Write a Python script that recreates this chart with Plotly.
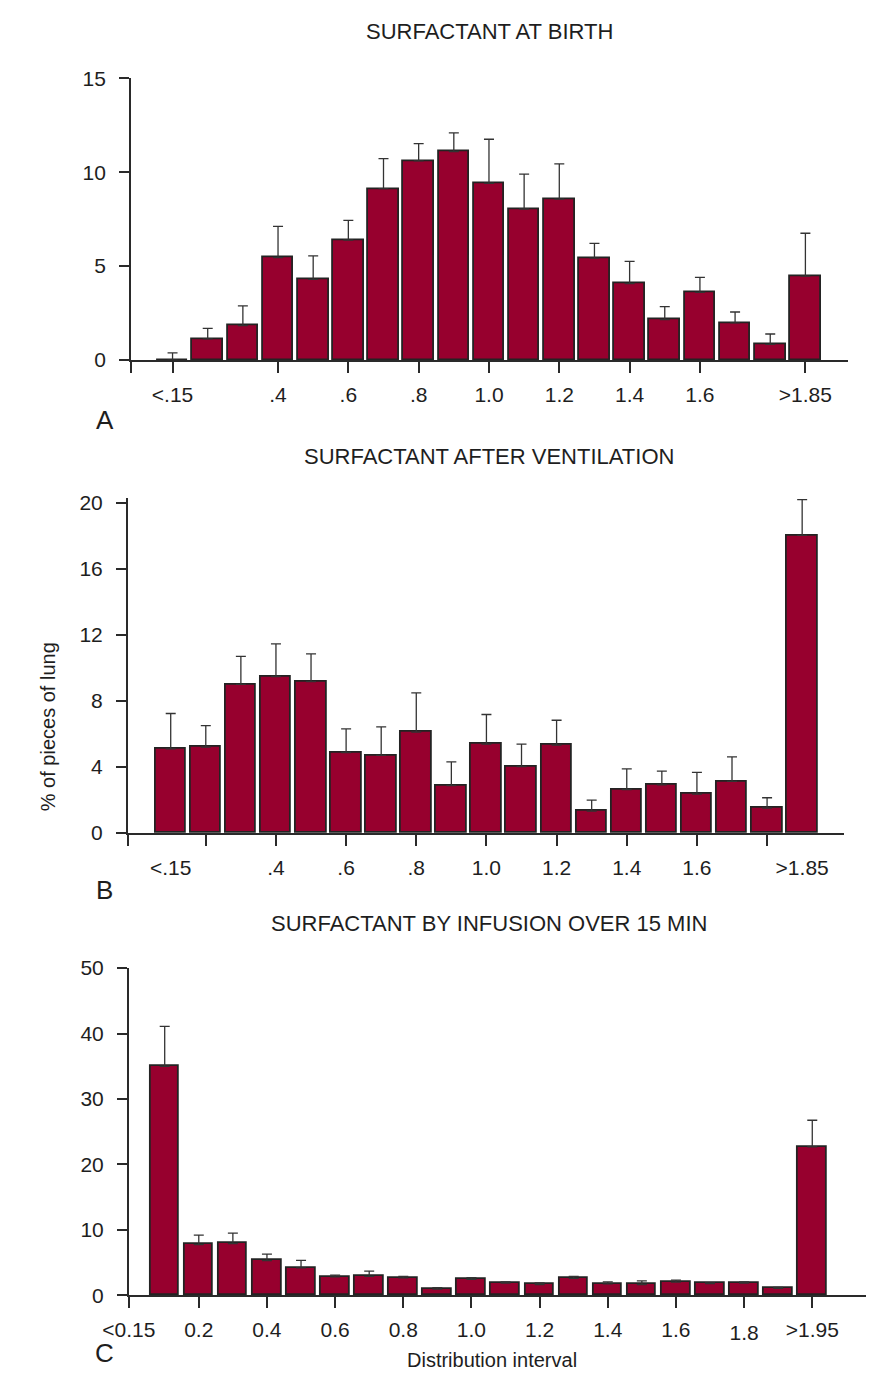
import plotly.graph_objects as go

W, H = 873, 1382

# ---------------- data ----------------
# Panel A: surfactant at birth
a_bins = [0.1, 0.2, 0.3, 0.4, 0.5, 0.6, 0.7, 0.8, 0.9, 1.0, 1.1, 1.2, 1.3, 1.4, 1.5, 1.6, 1.7, 1.8, 1.9]
a_vals = [0.0, 1.13, 1.84, 5.45, 4.30, 6.39, 9.12, 10.6, 11.1, 9.41, 8.04, 8.56, 5.43, 4.07, 2.16, 3.60, 1.98, 0.84, 4.47]
a_err = [0.38, 0.56, 1.05, 1.67, 1.25, 1.04, 1.60, 0.92, 0.99, 2.34, 1.86, 1.88, 0.78, 1.18, 0.69, 0.80, 0.58, 0.55, 2.28]
a_tick_pos = [0.1, 0.4, 0.6, 0.8, 1.0, 1.2, 1.4, 1.6, 1.9]
a_label_pos = [0.1, 0.4, 0.6, 0.8, 1.0, 1.2, 1.4, 1.6, 1.9]
a_labels = ["<.15", ".4", ".6", ".8", "1.0", "1.2", "1.4", "1.6", ">1.85"]
a_yticks = [0, 5, 10, 15]

# Panel B: surfactant after ventilation
b_bins = [0.1, 0.2, 0.3, 0.4, 0.5, 0.6, 0.7, 0.8, 0.9, 1.0, 1.1, 1.2, 1.3, 1.4, 1.5, 1.6, 1.7, 1.8, 1.9]
b_vals = [5.10, 5.20, 9.00, 9.48, 9.17, 4.88, 4.70, 6.11, 2.88, 5.38, 4.03, 5.32, 1.33, 2.64, 2.92, 2.36, 3.13, 1.51, 18.02]
b_err = [2.14, 1.31, 1.70, 1.97, 1.68, 1.43, 1.73, 2.38, 1.43, 1.80, 1.35, 1.51, 0.67, 1.25, 0.83, 1.31, 1.49, 0.63, 2.16]
b_tick_pos = [0.2, 0.4, 0.6, 0.8, 1.0, 1.2, 1.4, 1.6, 1.8]
b_label_pos = [0.1, 0.4, 0.6, 0.8, 1.0, 1.2, 1.4, 1.6, 1.9]
b_labels = ["<.15", ".4", ".6", ".8", "1.0", "1.2", "1.4", "1.6", ">1.85"]
b_yticks = [0, 4, 8, 12, 16, 20]

# Panel C: surfactant by infusion over 15 min
c_bins = [0.1, 0.2, 0.3, 0.4, 0.5, 0.6, 0.7, 0.8, 0.9, 1.0, 1.1, 1.2, 1.3, 1.4, 1.5, 1.6, 1.7, 1.8, 1.9, 2.0]
c_vals = [35.0, 7.75, 7.90, 5.30, 4.20, 2.80, 2.90, 2.65, 0.95, 2.45, 1.85, 1.65, 2.60, 1.75, 1.65, 2.00, 1.80, 1.85, 1.05, 22.7]
c_err = [6.10, 1.45, 1.60, 1.00, 1.13, 0.28, 0.80, 0.23, 0.23, 0.25, 0.20, 0.23, 0.30, 0.30, 0.55, 0.33, 0.10, 0.20, 0.17, 4.05]
c_tick_pos = [0.2, 0.4, 0.6, 0.8, 1.0, 1.2, 1.4, 1.6, 1.8, 2.0]
c_label_pos = [0.2, 0.4, 0.6, 0.8, 1.0, 1.2, 1.4, 1.6, 2.0]
c_labels = ["0.2", "0.4", "0.6", "0.8", "1.0", "1.2", "1.4", "1.6", ">1.95"]
c_edge_label = "<0.15"
c_low_label_pos = [1.8]
c_low_label = ["1.8"]
c_yticks = [0, 10, 20, 30, 40, 50]

titles = ["SURFACTANT AT BIRTH", "SURFACTANT AFTER VENTILATION", "SURFACTANT BY INFUSION OVER 15 MIN"]
letters = ["A", "B", "C"]
y_title = "% of pieces of lung"
x_title = "Distribution interval"

# ---------------- styling ----------------
FONT = "Liberation Sans, Arial, Helvetica, sans-serif"
TXT = "#1e1e1e"
AX = "#2a2a2a"
BAR = "#97002e"
EDGE = "#232323"
FS = 21
FS_TITLE = 22


def px_x(p):
    return p / W


def px_y(p):
    return 1 - p / H


# panel geometry (pixels): y-axis x, axis right end, bar1 centre, px per 0.1, zero y, top y
panels = [
    dict(bins=a_bins, vals=a_vals, err=a_err, x0=107.3, x1=846.7, c1=150.2, step=36.28,
         yzero=354.0, ytop=67.3, ymax=15.0, rng_top=15.0, yticks=a_yticks, bw=0.087),
    dict(bins=b_bins, vals=b_vals, err=b_err, x0=104.0, x1=843.3, c1=148.3, step=36.2,
         yzero=835.0, ytop=499.0, ymax=20.0, rng_top=20.3, yticks=b_yticks, bw=0.087),
    dict(bins=c_bins, vals=c_vals, err=c_err, x0=105.0, x1=866.0, c1=142.1, step=35.17,
         yzero=1305.0, ytop=972.3, ymax=50.0, rng_top=50.0, yticks=c_yticks, bw=0.084),
]

fig = go.Figure()
layout = dict(
    width=W, height=H,
    margin=dict(l=0, r=0, t=0, b=0),
    paper_bgcolor="white", plot_bgcolor="white",
    showlegend=False,
    font=dict(family=FONT, size=FS, color=TXT),
)

tick_sets = [a_tick_pos, b_tick_pos, c_tick_pos]
label_sets = [(a_label_pos, a_labels), (b_label_pos, b_labels), (c_label_pos, c_labels)]

axis_n = 1
for i, p in enumerate(panels):
    xr0 = p["bins"][0] - (p["c1"] - p["x0"]) / (p["step"] * 10)
    xr1 = p["bins"][0] + (p["x1"] - p["c1"]) / (p["step"] * 10)
    ppu = (p["yzero"] - p["ytop"]) / p["ymax"]
    top_px = p["yzero"] - p["rng_top"] * ppu
    xdom = [px_x(p["x0"]), px_x(p["x1"])]
    ydom = [px_y(p["yzero"]), px_y(top_px)]

    yid = "y" if i == 0 else f"y{i + 1}"
    yname = "yaxis" if i == 0 else f"yaxis{i + 1}"
    main_n = axis_n
    mx = "x" if main_n == 1 else f"x{main_n}"
    mname = "xaxis" if main_n == 1 else f"xaxis{main_n}"

    fig.add_trace(go.Bar(
        x=p["bins"], y=p["vals"], width=p["bw"],
        marker=dict(color=BAR, line=dict(color=EDGE, width=1.8)),
        error_y=dict(type="data", symmetric=False, array=p["err"],
                     arrayminus=[0] * len(p["err"]), color="#333333", thickness=1.3, width=5),
        xaxis=mx, yaxis=yid, hoverinfo="x+y",
    ))

    ticks = [xr0] + tick_sets[i]
    layout[mname] = dict(
        domain=xdom, range=[xr0, xr1], anchor=yid,
        tickmode="array", tickvals=ticks, showticklabels=False,
        ticks="outside", ticklen=11, tickwidth=1.5, tickcolor=AX,
        showline=True, linecolor=AX, linewidth=1.6,
        showgrid=False, zeroline=False, fixedrange=True,
    )
    layout[yname] = dict(
        domain=ydom, range=[0, p["rng_top"]], anchor=mx,
        tickmode="array", tickvals=p["yticks"], ticktext=[str(v) for v in p["yticks"]],
        ticks="outside", ticklen=10, tickwidth=1.5, tickcolor=AX,
        showline=True, linecolor=AX, linewidth=1.6,
        showgrid=False, zeroline=False, fixedrange=True,
        ticklabelstandoff=9, tickfont=dict(size=FS, color=TXT),
    )

    # overlay axis carrying the tick labels
    lpos, ltxt = label_sets[i]
    if i == 2:
        lpos = [xr0] + lpos
        ltxt = [c_edge_label] + ltxt
    ln = axis_n + 1
    lx = f"x{ln}"
    layout[f"xaxis{ln}"] = dict(
        domain=xdom, range=[xr0, xr1], anchor=yid, overlaying=mx,
        tickmode="array", tickvals=lpos, ticktext=ltxt, ticks="",
        showline=False, showgrid=False, zeroline=False, fixedrange=True,
        ticklabelstandoff=20, tickfont=dict(size=FS, color=TXT),
    )
    fig.add_trace(go.Scatter(x=[p["bins"][0]], y=[0], mode="markers", marker=dict(opacity=0),
                             xaxis=lx, yaxis=yid, hoverinfo="skip"))
    axis_n += 2
    if i == 2:
        ln2 = axis_n
        lx2 = f"x{ln2}"
        layout[f"xaxis{ln2}"] = dict(
            domain=xdom, range=[xr0, xr1], anchor=yid, overlaying=mx,
            tickmode="array", tickvals=c_low_label_pos, ticktext=c_low_label, ticks="",
            showline=False, showgrid=False, zeroline=False, fixedrange=True,
            ticklabelstandoff=23, tickfont=dict(size=FS, color=TXT),
        )
        fig.add_trace(go.Scatter(x=[p["bins"][0]], y=[0], mode="markers", marker=dict(opacity=0),
                                 xaxis=lx2, yaxis=yid, hoverinfo="skip"))
        axis_n += 1

annotations = []
title_y = [20, 452, 927]
letter_y = [415, 893, 1364]
for t, ty in zip(titles, title_y):
    annotations.append(dict(text=t, x=px_x(477), y=px_y(ty), xref="paper", yref="paper",
                            showarrow=False, xanchor="center", yanchor="middle",
                            font=dict(size=FS_TITLE, color=TXT, family=FONT)))
for l, ly in zip(letters, letter_y):
    annotations.append(dict(text=l, x=px_x(80), y=px_y(ly), xref="paper", yref="paper",
                            showarrow=False, xanchor="center", yanchor="middle",
                            font=dict(size=26, color=TXT, family=FONT)))
annotations.append(dict(text=y_title, x=px_x(22), y=px_y(727), xref="paper", yref="paper",
                        showarrow=False, textangle=-90, xanchor="center", yanchor="middle",
                        font=dict(size=20, color=TXT, family=FONT)))
annotations.append(dict(text=x_title, x=px_x(480), y=px_y(1371), xref="paper", yref="paper",
                        showarrow=False, xanchor="center", yanchor="middle",
                        font=dict(size=20, color=TXT, family=FONT)))
layout["annotations"] = annotations
layout["bargap"] = 0

fig.update_layout(**layout)
fig.write_html("out.html")
